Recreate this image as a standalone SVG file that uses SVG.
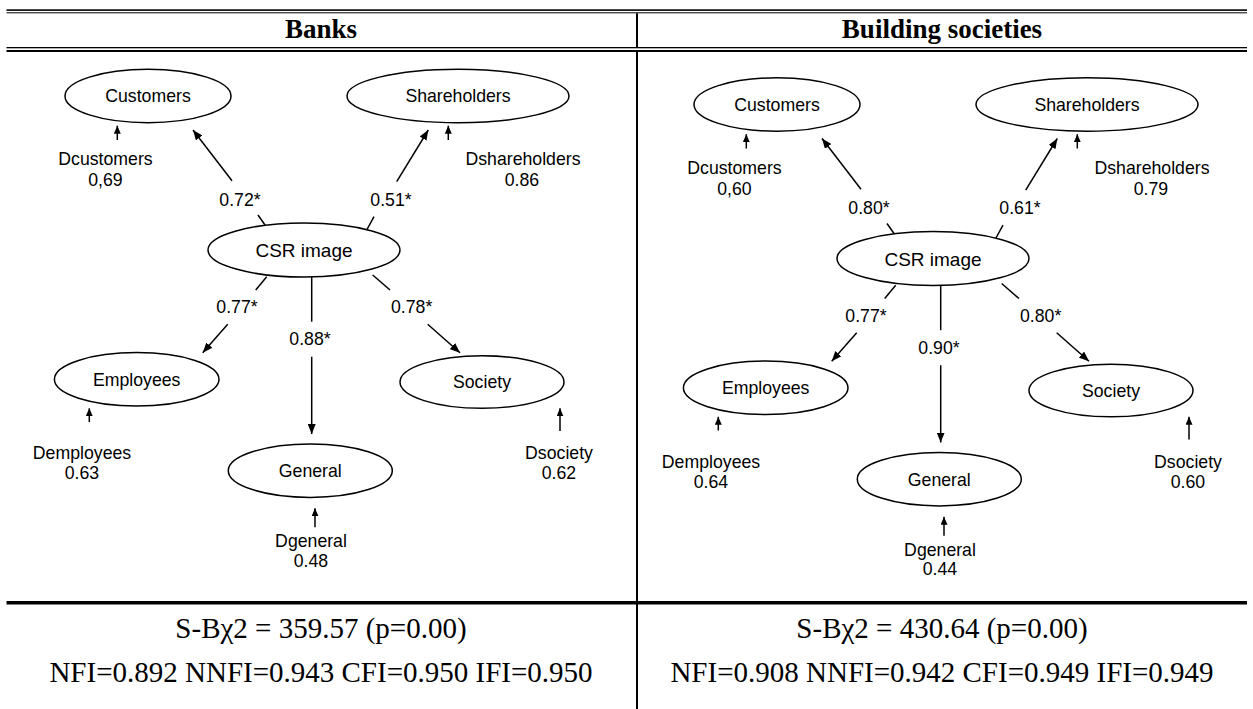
<svg xmlns="http://www.w3.org/2000/svg" width="1253" height="709" viewBox="0 0 1253 709">
<style>
.bg{fill:#fff}
.rule{fill:#000}
.node{fill:#fff;stroke:#000;stroke-width:1.5}
.lbl{font-family:"Liberation Sans",Arial,sans-serif;font-size:17.7px;fill:#000;text-anchor:middle}
.big{font-size:19px}
.hdr{font-family:"Liberation Serif","Times New Roman",serif;font-size:27px;font-weight:bold;fill:#000;text-anchor:middle}
.stat{font-family:"Liberation Serif","Times New Roman",serif;font-size:29px;fill:#000;text-anchor:middle}
.edge{fill:none;stroke:#000;stroke-width:1.5}
.arr{marker-end:url(#ah)}
.sarr{marker-end:url(#ahs)}
</style>
<defs>
<marker id="ah" viewBox="0 0 10 8" refX="10" refY="4" markerWidth="10" markerHeight="8" markerUnits="userSpaceOnUse" orient="auto"><path d="M0,0 L10,4 L0,8 z" fill="#000"/></marker>
<marker id="ahs" viewBox="0 0 8 7" refX="8" refY="3.5" markerWidth="8" markerHeight="7" markerUnits="userSpaceOnUse" orient="auto"><path d="M0,0 L8,3.5 L0,7 z" fill="#000"/></marker>
</defs>
<rect class="bg" x="0" y="0" width="1253" height="709"/>

<g id="table-rules">
<rect class="rule" x="6.5" y="9.3" width="1240.5" height="1.6"/>
<rect class="rule" x="6.5" y="12.3" width="1240.5" height="1"/>
<rect class="rule" x="6.5" y="47" width="1240.5" height="1.3"/>
<rect class="rule" x="6.5" y="50" width="1240.5" height="2"/>
<rect class="rule" x="636" y="13.3" width="2" height="33.7"/>
<rect class="rule" x="636" y="52" width="2" height="657"/>
<rect class="rule" x="6.5" y="601" width="1240.5" height="3.5"/>
</g>

<g id="headers">
<text class="hdr" x="321" y="38">Banks</text>
<text class="hdr" x="942" y="38">Building societies</text>
</g>

<g id="stats">
<text class="stat" x="321" y="638">S-Bχ2 = 359.57 (p=0.00)</text>
<text class="stat" x="321" y="682">NFI=0.892 NNFI=0.943 CFI=0.950 IFI=0.950</text>
<text class="stat" x="942" y="638">S-Bχ2 = 430.64 (p=0.00)</text>
<text class="stat" x="942" y="682">NFI=0.908 NNFI=0.942 CFI=0.949 IFI=0.949</text>
</g>

<!-- Banks diagram -->
<g id="banks-connectors">
<path class="edge" d="M265,225 L258,215"/>
<path class="edge arr" d="M232,180.7 L193,130"/>
<path class="edge" d="M366.7,230 L374,216.7"/>
<path class="edge arr" d="M396.7,181.7 L428.3,130"/>
<path class="edge" d="M266.7,276.7 L255.7,290"/>
<path class="edge arr" d="M227.7,324.3 L202.7,352.7"/>
<path class="edge" d="M311.7,277 L311.7,321.7"/>
<path class="edge arr" d="M311.7,356.7 L311.7,434"/>
<path class="edge" d="M372.7,275 L390,290"/>
<path class="edge arr" d="M427.7,324.3 L460,352.7"/>
<path class="edge sarr" d="M117.3,140 L117.3,125.7"/>
<path class="edge sarr" d="M448.3,140 L448.3,125.7"/>
<path class="edge sarr" d="M89.3,422 L89.3,408.3"/>
<path class="edge sarr" d="M560,431 L560,408.3"/>
<path class="edge sarr" d="M315,527.3 L315,508.3"/>
<text class="lbl" x="240" y="205.7">0.72*</text>
<text class="lbl" x="391" y="205.7">0.51*</text>
<text class="lbl" x="237" y="313.3">0.77*</text>
<text class="lbl" x="310" y="345">0.88*</text>
<text class="lbl" x="411.7" y="313.3">0.78*</text>
</g>
<g id="banks-customers"><ellipse class="node" cx="148" cy="96" rx="83" ry="26.7"/><text class="lbl" x="148" y="102">Customers</text></g>
<g id="banks-shareholders"><ellipse class="node" cx="458" cy="96" rx="111" ry="26.7"/><text class="lbl" x="458" y="102">Shareholders</text></g>
<g id="banks-csr"><ellipse class="node" cx="304" cy="250" rx="96" ry="27"/><text class="lbl big" x="304" y="257">CSR image</text></g>
<g id="banks-employees"><ellipse class="node" cx="136.7" cy="379.3" rx="82.3" ry="26.7"/><text class="lbl" x="136.7" y="385.5">Employees</text></g>
<g id="banks-general"><ellipse class="node" cx="310.3" cy="470.7" rx="82" ry="26.7"/><text class="lbl" x="310.3" y="477">General</text></g>
<g id="banks-society"><ellipse class="node" cx="482" cy="382" rx="82" ry="26.3"/><text class="lbl" x="482" y="388">Society</text></g>
<g id="banks-dcustomers"><text class="lbl" x="105.5" y="165">Dcustomers</text><text class="lbl" x="105.5" y="186">0,69</text></g>
<g id="banks-dshareholders"><text class="lbl" x="523" y="165">Dshareholders</text><text class="lbl" x="522" y="186">0.86</text></g>
<g id="banks-demployees"><text class="lbl" x="82" y="459">Demployees</text><text class="lbl" x="82" y="479">0.63</text></g>
<g id="banks-dsociety"><text class="lbl" x="559" y="459">Dsociety</text><text class="lbl" x="559" y="479">0.62</text></g>
<g id="banks-dgeneral"><text class="lbl" x="311" y="547.3">Dgeneral</text><text class="lbl" x="311" y="566.7">0.48</text></g>

<!-- Building societies diagram -->
<g transform="translate(629,8.5)">
<g id="bs-connectors">
<path class="edge" d="M265,225 L258,215"/>
<path class="edge arr" d="M232,180.7 L193,130"/>
<path class="edge" d="M366.7,230 L374,216.7"/>
<path class="edge arr" d="M396.7,181.7 L428.3,130"/>
<path class="edge" d="M266.7,276.7 L255.7,290"/>
<path class="edge arr" d="M227.7,324.3 L202.7,352.7"/>
<path class="edge" d="M311.7,277 L311.7,321.7"/>
<path class="edge arr" d="M311.7,356.7 L311.7,434"/>
<path class="edge" d="M372.7,275 L390,290"/>
<path class="edge arr" d="M427.7,324.3 L460,352.7"/>
<path class="edge sarr" d="M117.3,140 L117.3,125.7"/>
<path class="edge sarr" d="M448.3,140 L448.3,125.7"/>
<path class="edge sarr" d="M89.3,422 L89.3,408.3"/>
<path class="edge sarr" d="M560,431 L560,408.3"/>
<path class="edge sarr" d="M315,527.3 L315,508.3"/>
<text class="lbl" x="240" y="205.7">0.80*</text>
<text class="lbl" x="391" y="205.7">0.61*</text>
<text class="lbl" x="237" y="313.3">0.77*</text>
<text class="lbl" x="310" y="345">0.90*</text>
<text class="lbl" x="411.7" y="313.3">0.80*</text>
</g>
<g id="bs-customers"><ellipse class="node" cx="148" cy="96" rx="83" ry="26.7"/><text class="lbl" x="148" y="102">Customers</text></g>
<g id="bs-shareholders"><ellipse class="node" cx="458" cy="96" rx="111" ry="26.7"/><text class="lbl" x="458" y="102">Shareholders</text></g>
<g id="bs-csr"><ellipse class="node" cx="304" cy="250" rx="96" ry="27"/><text class="lbl big" x="304" y="257">CSR image</text></g>
<g id="bs-employees"><ellipse class="node" cx="136.7" cy="379.3" rx="82.3" ry="26.7"/><text class="lbl" x="136.7" y="385.5">Employees</text></g>
<g id="bs-general"><ellipse class="node" cx="310.3" cy="470.7" rx="82" ry="26.7"/><text class="lbl" x="310.3" y="477">General</text></g>
<g id="bs-society"><ellipse class="node" cx="482" cy="382" rx="82" ry="26.3"/><text class="lbl" x="482" y="388">Society</text></g>
<g id="bs-dcustomers"><text class="lbl" x="105.5" y="165">Dcustomers</text><text class="lbl" x="105.5" y="186">0,60</text></g>
<g id="bs-dshareholders"><text class="lbl" x="523" y="165">Dshareholders</text><text class="lbl" x="522" y="186">0.79</text></g>
<g id="bs-demployees"><text class="lbl" x="82" y="459">Demployees</text><text class="lbl" x="82" y="479">0.64</text></g>
<g id="bs-dsociety"><text class="lbl" x="559" y="459">Dsociety</text><text class="lbl" x="559" y="479">0.60</text></g>
<g id="bs-dgeneral"><text class="lbl" x="311" y="547.3">Dgeneral</text><text class="lbl" x="311" y="566.7">0.44</text></g>
</g>
</svg>
